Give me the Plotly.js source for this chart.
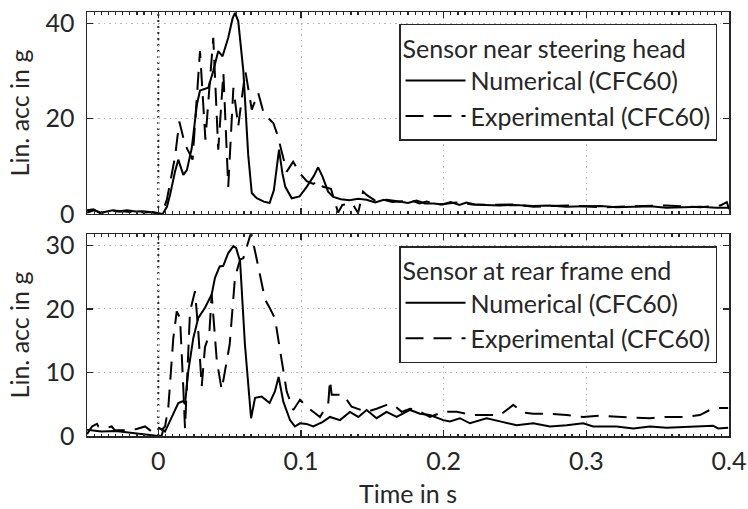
<!DOCTYPE html>
<html>
<head>
<meta charset="utf-8">
<script src="https://cdn.plot.ly/plotly-3.0.1.min.js"></script>
<style>html,body{margin:0;padding:0;background:#fff;}#chart{width:748px;height:509px;}</style>
</head>
<body>
<div id="chart"></div>
<script>
// ---- Data ----
// Top panel: sensor near steering head
var tHeadNum = [-0.05,-0.0455,-0.041,-0.037,-0.032,-0.027,-0.022,-0.016,-0.011,-0.006,-0.001,0.003,0.006,0.0082,0.0117,0.014,0.0175,0.020,0.0234,0.027,0.0292,0.035,0.0385,0.042,0.045,0.049,0.052,0.0537,0.056,0.0596,0.063,0.0655,0.069,0.074,0.078,0.081,0.0846,0.087,0.089,0.0935,0.099,0.104,0.109,0.112,0.115,0.119,0.1226,0.128,0.134,0.140,0.146,0.152,0.158,0.164,0.169,0.175,0.181,0.187,0.193,0.199,0.205,0.211,0.216,0.222,0.229,0.239,0.250,0.263,0.274,0.286,0.298,0.310,0.321,0.333,0.345,0.356,0.368,0.380,0.391,0.400];
var accHeadNum = [0.8,1.0,0.2,0.4,0.8,0.6,0.8,0.5,0.6,0.4,0.2,0.0,1.5,4.0,8.9,11.4,8.2,9.2,13.8,22.9,25.9,26.5,30.0,34.2,33.1,37.0,41.0,42.2,40.5,30.0,12.4,4.4,3.3,2.6,2.3,5.0,13.5,8.5,5.7,3.3,3.7,5.7,8.0,9.8,7.9,4.7,3.6,3.1,2.9,3.2,3.0,2.4,3.0,2.5,2.6,2.3,2.8,2.2,2.2,2.0,2.5,1.9,2.4,2.0,1.9,1.8,1.9,1.7,1.8,1.5,1.6,1.7,1.4,1.5,1.6,1.3,1.4,1.5,1.3,1.3];

var tHeadExp = [-0.05,-0.045,-0.04,-0.033,-0.029,-0.025,-0.02,-0.015,-0.01,-0.005,0.0,0.003,0.006,0.009,0.0117,0.0147,0.0187,0.024,0.0292,0.033,0.0385,0.042,0.0456,0.049,0.0526,0.056,0.061,0.0655,0.070,0.074,0.0806,0.0835,0.090,0.0945,0.099,0.104,0.1086,0.112,0.1155,0.121,0.126,0.129,0.136,0.140,0.1435,0.146,0.153,0.160,0.169,0.176,0.183,0.188,0.197,0.209,0.220,0.232,0.251,0.263,0.286,0.310,0.333,0.356,0.380,0.394,0.3985,0.400];
var accHeadExp = [0.3,0.8,0.2,0.8,0.5,0.6,0.4,0.5,0.3,0.4,0.2,0.5,3.0,7.5,12.0,19.4,14.6,11.4,34.2,15.6,37.0,13.5,29.6,5.7,26.5,18.4,30.0,21.9,25.4,21.0,19.1,16.6,8.9,11.0,8.6,6.9,6.3,7.0,5.7,5.3,0.3,1.9,2.2,0.2,4.7,4.0,2.6,3.0,2.6,3.0,2.2,2.6,2.0,2.4,2.0,1.9,2.0,1.5,1.8,1.4,1.6,1.8,1.4,1.8,2.5,1.0];

// Bottom panel: sensor at rear frame end
var tRearNum = [-0.05,-0.04,-0.03,-0.02,-0.01,-0.003,0.0,0.0024,0.0035,0.0047,0.0082,0.014,0.0175,0.0187,0.021,0.0245,0.028,0.0327,0.0374,0.0397,0.043,0.0455,0.049,0.0526,0.0545,0.0573,0.0607,0.065,0.0678,0.0725,0.078,0.0817,0.0843,0.0876,0.0923,0.0957,0.0993,0.1039,0.1086,0.115,0.1203,0.1273,0.1343,0.1402,0.146,0.153,0.160,0.167,0.1764,0.1834,0.1904,0.1997,0.2044,0.2114,0.2184,0.2301,0.2395,0.2512,0.2628,0.2745,0.2862,0.2978,0.3048,0.3212,0.3329,0.3446,0.3563,0.3796,0.3889,0.3924,0.3994];
var accRearNum = [1.0,0.7,0.8,0.5,0.2,0.0,0.0,0.1,1.0,0.7,2.3,5.2,5.5,5.0,10.2,15.4,18.6,20.2,22.3,24.9,26.7,26.8,28.8,29.9,29.6,27.5,14.4,2.8,6.0,6.2,5.2,7.0,9.3,5.4,2.5,1.5,2.0,1.9,1.5,2.2,3.0,2.5,3.8,3.0,4.1,2.8,3.8,3.0,4.1,3.5,3.3,2.5,2.3,2.8,2.0,2.8,2.3,1.7,2.0,1.5,1.7,2.0,1.5,1.5,1.2,1.5,1.3,1.5,1.6,1.2,1.3];

var tRearExp = [-0.05,-0.0465,-0.043,-0.042,-0.0363,-0.0327,-0.0304,-0.0222,-0.0152,-0.0093,-0.0046,-0.0011,0.0024,0.0047,0.007,0.0105,0.0129,0.0152,0.0175,0.0187,0.0222,0.0257,0.028,0.0304,0.0327,0.0357,0.0374,0.041,0.0444,0.050,0.0537,0.0573,0.0596,0.0619,0.065,0.069,0.0748,0.078,0.0818,0.0853,0.090,0.0946,0.0993,0.104,0.1086,0.1133,0.1191,0.1203,0.1215,0.1296,0.1355,0.146,0.153,0.160,0.1647,0.1706,0.1764,0.1811,0.1904,0.1997,0.2091,0.2207,0.2301,0.2395,0.2488,0.2558,0.2628,0.2745,0.2862,0.2978,0.3095,0.3212,0.3329,0.3446,0.3563,0.3679,0.3796,0.3866,0.3924,0.3994];
var accRearExp = [0.3,1.5,1.9,1.5,1.3,1.5,0.9,0.9,1.1,1.5,0.7,1.5,1.0,1.5,4.5,15.4,19.6,18.6,7.6,1.2,19.6,22.8,16.5,7.8,14.0,16.0,22.3,11.8,7.3,14.4,24.9,27.8,28.0,29.6,32.0,27.8,21.5,20.2,18.5,13.5,7.0,4.1,5.7,4.6,3.8,3.0,5.1,8.8,6.5,6.5,4.6,3.8,4.3,4.9,4.9,3.8,4.3,4.1,3.0,3.8,3.8,3.3,3.3,3.3,4.9,3.7,3.5,3.5,3.3,3.0,3.2,3.0,2.9,2.8,3.0,3.0,3.3,4.1,4.4,4.4];

var seriesNames = ['Numerical (CFC60)', 'Experimental (CFC60)'];
var legendTitles = ['Sensor near steering head', 'Sensor at rear frame end'];
var xTickVals = [0, 0.1, 0.2, 0.3, 0.4];
var xTickText = ['0', '0.1', '0.2', '0.3', '0.4'];

// ---- Chart ----
var FONT = 'Lato, "Open Sans", sans-serif';
var FS = 25;
var INK = '#262626';
var solid = {color: '#000', width: 2, dash: 'solid'};
var dashed = {color: '#000', width: 2, dash: '18px,10px'};

var traces = [
  {x: tHeadNum, y: accHeadNum, xaxis: 'x', yaxis: 'y', name: seriesNames[0], mode: 'lines', line: solid, legend: 'legend'},
  {x: tHeadExp, y: accHeadExp, xaxis: 'x', yaxis: 'y', name: seriesNames[1], mode: 'lines', line: dashed, legend: 'legend'},
  {x: tRearNum, y: accRearNum, xaxis: 'x2', yaxis: 'y2', name: seriesNames[0], mode: 'lines', line: solid, legend: 'legend2'},
  {x: tRearExp, y: accRearExp, xaxis: 'x2', yaxis: 'y2', name: seriesNames[1], mode: 'lines', line: dashed, legend: 'legend2'}
];

function xAx(extra) {
  var a = {
    range: [-0.05, 0.4], tickvals: xTickVals, ticktext: xTickText,
    showline: true, mirror: 'ticks', linecolor: INK, linewidth: 1.5,
    ticks: 'inside', ticklen: 6, tickwidth: 1.2, tickcolor: INK,
    showgrid: true, gridcolor: '#b8b8b8', griddash: '1.5px,4px', gridwidth: 1,
    zeroline: false, tickfont: {family: FONT, size: FS, color: INK},
    minor: {dtick: 0.005, tick0: 0, ticks: 'inside', ticklen: 2.5, tickcolor: INK, showgrid: false}
  };
  for (var k in extra) a[k] = extra[k];
  return a;
}
function yAx(extra) {
  var a = {
    showline: true, mirror: 'ticks', linecolor: INK, linewidth: 1.5,
    ticks: 'inside', ticklen: 6, tickwidth: 1.2, tickcolor: INK,
    showgrid: true, gridcolor: '#b8b8b8', griddash: '1.5px,4px', gridwidth: 1,
    zeroline: false, tickfont: {family: FONT, size: FS, color: INK},
    ticklabelstandoff: 6,
    title: {text: 'Lin. acc in g', font: {family: FONT, size: FS, color: INK}, standoff: 8}
  };
  for (var k in extra) a[k] = extra[k];
  return a;
}
function legendBox(yTop, title) {
  return {
    x: 0.486, y: yTop, xanchor: 'left', yanchor: 'top',
    bgcolor: '#ffffff', bordercolor: INK, borderwidth: 1.5,
    font: {family: FONT, size: FS, color: INK},
    title: {text: title, font: {family: FONT, size: FS, color: INK}},
    itemwidth: 60, tracegroupgap: 0, itemclick: false
  };
}

var layout = {
  width: 748, height: 509,
  margin: {l: 87, r: 19, t: 12, b: 73},
  paper_bgcolor: '#ffffff', plot_bgcolor: '#ffffff',
  font: {family: FONT, color: INK},
  showlegend: true,
  xaxis: xAx({domain: [0, 1], anchor: 'y', matches: 'x2', showticklabels: false}),
  xaxis2: xAx({domain: [0, 1], anchor: 'y2', ticklabelstandoff: 2,
    title: {text: 'Time in s', font: {family: FONT, size: FS, color: INK}, standoff: 12}}),
  yaxis: yAx({domain: [0.5236, 1], anchor: 'x', range: [0, 42.4], tickvals: [0, 20, 40]}),
  yaxis2: yAx({domain: [0, 0.4764], anchor: 'x2', range: [0, 31.8], tickvals: [0, 10, 20, 30]}),
  legend: legendBox(0.972, legendTitles[0]),
  legend2: legendBox(0.448, legendTitles[1]),
  shapes: [
    {type: 'line', xref: 'x', yref: 'y domain', x0: 0, x1: 0, y0: 0, y1: 1, layer: 'below', line: {color: INK, width: 2, dash: '2px,4px'}},
    {type: 'line', xref: 'x2', yref: 'y2 domain', x0: 0, x1: 0, y0: 0, y1: 1, layer: 'below', line: {color: INK, width: 2, dash: '2px,4px'}}
  ]
};

Plotly.newPlot('chart', traces, layout, {staticPlot: true, displayModeBar: false});
</script>
</body>
</html>
